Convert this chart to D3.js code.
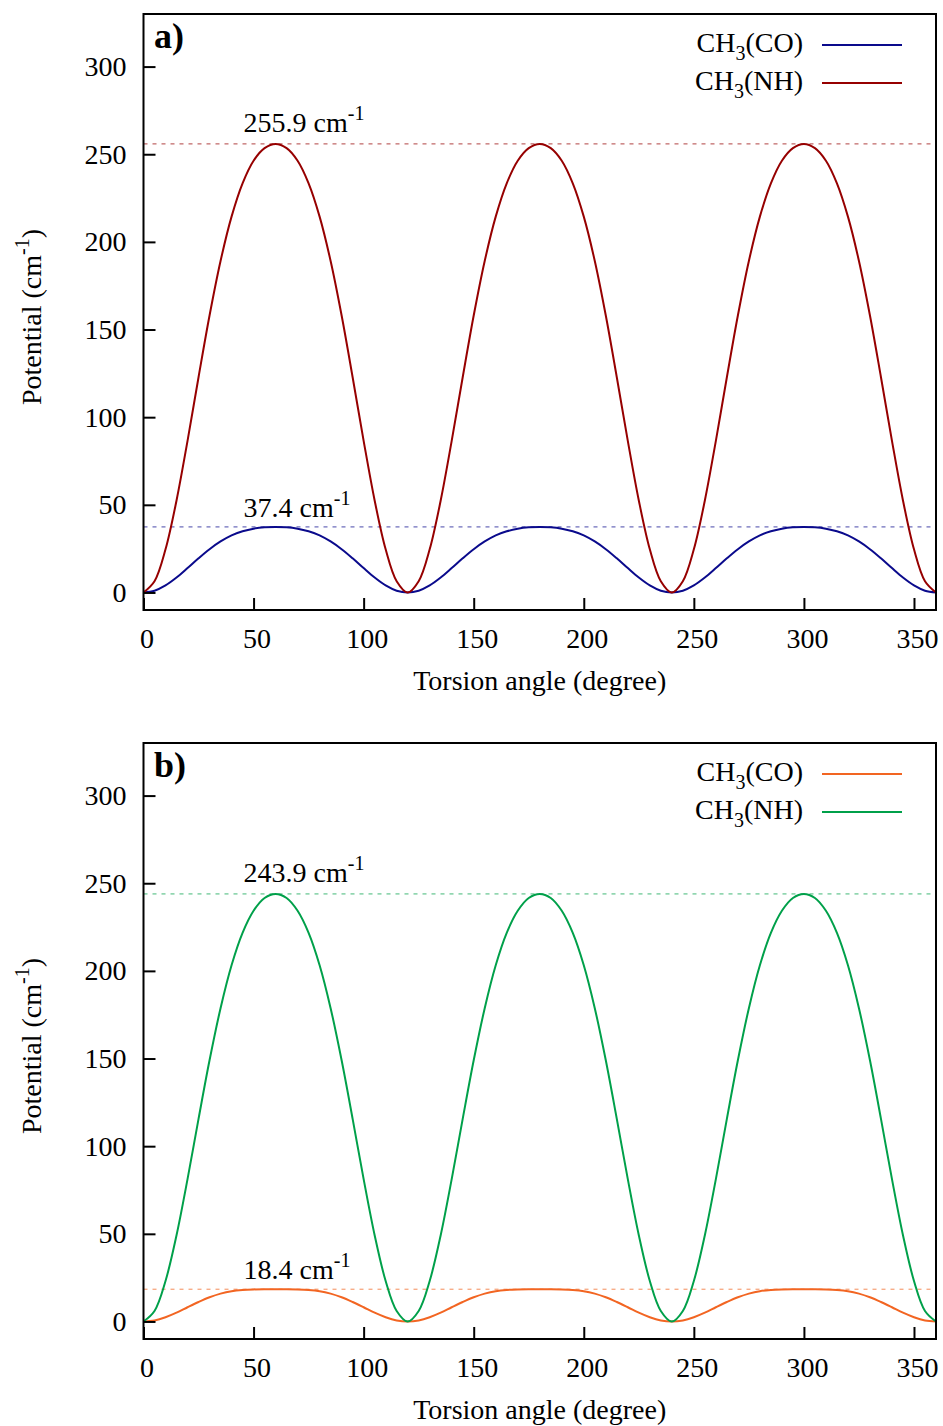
<!DOCTYPE html>
<html>
<head>
<meta charset="utf-8">
<script src="https://cdn.jsdelivr.net/npm/d3@7"></script>
<style>
  body { margin: 0; background: #fff; }
  text { font-family: "Liberation Serif", "Times New Roman", serif; fill: #000; }
</style>
</head>
<body>
<div id="grafico"></div>
<script>
// angles in degrees, one reading every 5 degrees
const angulos = d3.range(0, 361, 5);

const xTicks = [0, 50, 100, 150, 200, 250, 300, 350];
const yTicks = [0, 50, 100, 150, 200, 250, 300];

// panel a
const coA = [
  0, 1.0, 4.0, 8.5, 13.9, 19.5, 24.7, 29.1, 32.6, 34.9, 36.4, 37.2,
  37.4, 37.2, 36.4, 34.9, 32.6, 29.1, 24.7, 19.5, 13.9, 8.5, 4.0, 1.0,
  0, 1.0, 4.0, 8.5, 13.9, 19.5, 24.7, 29.1, 32.6, 34.9, 36.4, 37.2,
  37.4, 37.2, 36.4, 34.9, 32.6, 29.1, 24.7, 19.5, 13.9, 8.5, 4.0, 1.0,
  0, 1.0, 4.0, 8.5, 13.9, 19.5, 24.7, 29.1, 32.6, 34.9, 36.4, 37.2,
  37.4, 37.2, 36.4, 34.9, 32.6, 29.1, 24.7, 19.5, 13.9, 8.5, 4.0, 1.0,
  0
];
const nhA = [
  0, 6.4, 24.6, 52.5, 86.5, 122.8, 158.0, 189.1, 214.4, 233.4, 246.3, 253.5,
  255.9, 253.5, 246.3, 233.4, 214.4, 189.1, 158.0, 122.8, 86.5, 52.5, 24.6, 6.4,
  0, 6.4, 24.6, 52.5, 86.5, 122.8, 158.0, 189.1, 214.4, 233.4, 246.3, 253.5,
  255.9, 253.5, 246.3, 233.4, 214.4, 189.1, 158.0, 122.8, 86.5, 52.5, 24.6, 6.4,
  0, 6.4, 24.6, 52.5, 86.5, 122.8, 158.0, 189.1, 214.4, 233.4, 246.3, 253.5,
  255.9, 253.5, 246.3, 233.4, 214.4, 189.1, 158.0, 122.8, 86.5, 52.5, 24.6, 6.4,
  0
];

// panel b
const coB = [
  0, 0.6, 2.4, 5.0, 8.1, 11.1, 13.8, 15.9, 17.3, 18.0, 18.3, 18.4,
  18.4, 18.4, 18.3, 18.0, 17.3, 15.9, 13.8, 11.1, 8.1, 5.0, 2.4, 0.6,
  0, 0.6, 2.4, 5.0, 8.1, 11.1, 13.8, 15.9, 17.3, 18.0, 18.3, 18.4,
  18.4, 18.4, 18.3, 18.0, 17.3, 15.9, 13.8, 11.1, 8.1, 5.0, 2.4, 0.6,
  0, 0.6, 2.4, 5.0, 8.1, 11.1, 13.8, 15.9, 17.3, 18.0, 18.3, 18.4,
  18.4, 18.4, 18.3, 18.0, 17.3, 15.9, 13.8, 11.1, 8.1, 5.0, 2.4, 0.6,
  0
];
const nhB = [
  0, 6.0, 23.1, 49.2, 81.2, 115.6, 149.0, 178.7, 203.2, 221.7, 234.3, 241.6,
  243.9, 241.6, 234.3, 221.7, 203.2, 178.7, 149.0, 115.6, 81.2, 49.2, 23.1, 6.0,
  0, 6.0, 23.1, 49.2, 81.2, 115.6, 149.0, 178.7, 203.2, 221.7, 234.3, 241.6,
  243.9, 241.6, 234.3, 221.7, 203.2, 178.7, 149.0, 115.6, 81.2, 49.2, 23.1, 6.0,
  0, 6.0, 23.1, 49.2, 81.2, 115.6, 149.0, 178.7, 203.2, 221.7, 234.3, 241.6,
  243.9, 241.6, 234.3, 221.7, 203.2, 178.7, 149.0, 115.6, 81.2, 49.2, 23.1, 6.0,
  0
];

const barreirasA = [255.9, 37.4];
const barreirasB = [243.9, 18.4];
const legendas = ["(CO)", "(NH)"];

const coresA = ["#0a0a8c", "#960000"];
const coresB = ["#f26522", "#00a04a"];

const largura = 943, altura = 1426;
const fonte = 28;

const svg = d3.select("#grafico")
  .append("svg")
  .attr("width", largura)
  .attr("height", altura);

function desenharPainel(topo, letra, series, barreiras, cores) {
  const esq = 143.5, dir = 936, base = topo + 596;

  const x = d3.scaleLinear().domain([0, 360]).range([esq, dir]);
  const y = d3.scaleLinear().domain([-10, 330]).range([base, topo]);

  const g = svg.append("g");

  // dashed barrier lines
  barreiras.forEach((b, i) => {
    g.append("line")
      .attr("x1", esq).attr("x2", dir)
      .attr("y1", y(b)).attr("y2", y(b))
      .attr("stroke", i === 0 ? cores[1] : cores[0])
      .attr("stroke-opacity", 0.75)
      .attr("stroke-width", 1)
      .attr("stroke-dasharray", "4,5");
  });

  const linha = d3.line()
    .x((d, i) => x(angulos[i]))
    .y(d => y(d))
    .curve(d3.curveCatmullRom.alpha(0.5));

  series.forEach((s, i) => {
    g.append("path")
      .datum(s)
      .attr("d", linha)
      .attr("fill", "none")
      .attr("stroke", cores[i])
      .attr("stroke-width", 2);
  });

  // axes, ticks pointing inward
  const eixoY = g.append("g")
    .attr("transform", `translate(${esq},0)`)
    .call(d3.axisLeft(y).tickValues(yTicks).tickSize(-12).tickPadding(17));
  const eixoX = g.append("g")
    .attr("transform", `translate(0,${base})`)
    .call(d3.axisBottom(x).tickValues(xTicks).tickSize(-12).tickPadding(18));

  [eixoY, eixoX].forEach(e => {
    e.select(".domain").remove();
    e.selectAll(".tick line").attr("stroke", "#000").attr("stroke-width", 2);
    e.selectAll(".tick text")
      .attr("font-size", fonte)
      .attr("font-family", "Liberation Serif, Times New Roman, serif");
  });
  eixoX.selectAll(".tick text").attr("dx", 3);

  g.append("rect")
    .attr("x", esq).attr("y", topo)
    .attr("width", dir - esq).attr("height", base - topo)
    .attr("fill", "none")
    .attr("stroke", "#000")
    .attr("stroke-width", 2);

  // panel letter
  g.append("text")
    .attr("x", 154).attr("y", topo + 34)
    .attr("font-size", 36)
    .attr("font-weight", "bold")
    .text(letra);

  // barrier labels
  const rotulos = [
    { v: barreiras[0], x: esq + 100, y: y(barreiras[0]) - 12 },
    { v: barreiras[1], x: esq + 100, y: y(barreiras[1]) - 10 }
  ];
  rotulos.forEach(r => {
    const t = g.append("text")
      .attr("x", r.x).attr("y", r.y)
      .attr("font-size", fonte);
    t.append("tspan").text(r.v.toFixed(1) + " cm");
    t.append("tspan").attr("dy", -12).attr("font-size", 20).text("-1");
  });

  // legend
  legendas.forEach((l, i) => {
    const ly = topo + 38 + i * 38;
    const t = g.append("text")
      .attr("x", 803).attr("y", ly)
      .attr("text-anchor", "end")
      .attr("font-size", fonte);
    t.append("tspan").text("CH");
    t.append("tspan").attr("dy", 8).attr("font-size", 20).text("3");
    t.append("tspan").attr("dy", -8).text(l);

    g.append("line")
      .attr("x1", 822).attr("x2", 902)
      .attr("y1", ly - 7).attr("y2", ly - 7)
      .attr("stroke", cores[i])
      .attr("stroke-width", 2);
  });

  // axis titles
  g.append("text")
    .attr("x", (esq + dir) / 2).attr("y", base + 80)
    .attr("text-anchor", "middle")
    .attr("font-size", fonte)
    .text("Torsion angle (degree)");

  const ty = g.append("text")
    .attr("transform", `translate(41,${(topo + base) / 2 + 5}) rotate(-90)`)
    .attr("text-anchor", "middle")
    .attr("font-size", fonte);
  ty.append("tspan").text("Potential (cm");
  ty.append("tspan").attr("dy", -12).attr("font-size", 20).text("-1");
  ty.append("tspan").attr("dy", 12).text(")");
}

desenharPainel(14, "a)", [coA, nhA], barreirasA, coresA);
desenharPainel(743, "b)", [coB, nhB], barreirasB, coresB);
</script>
</body>
</html>
